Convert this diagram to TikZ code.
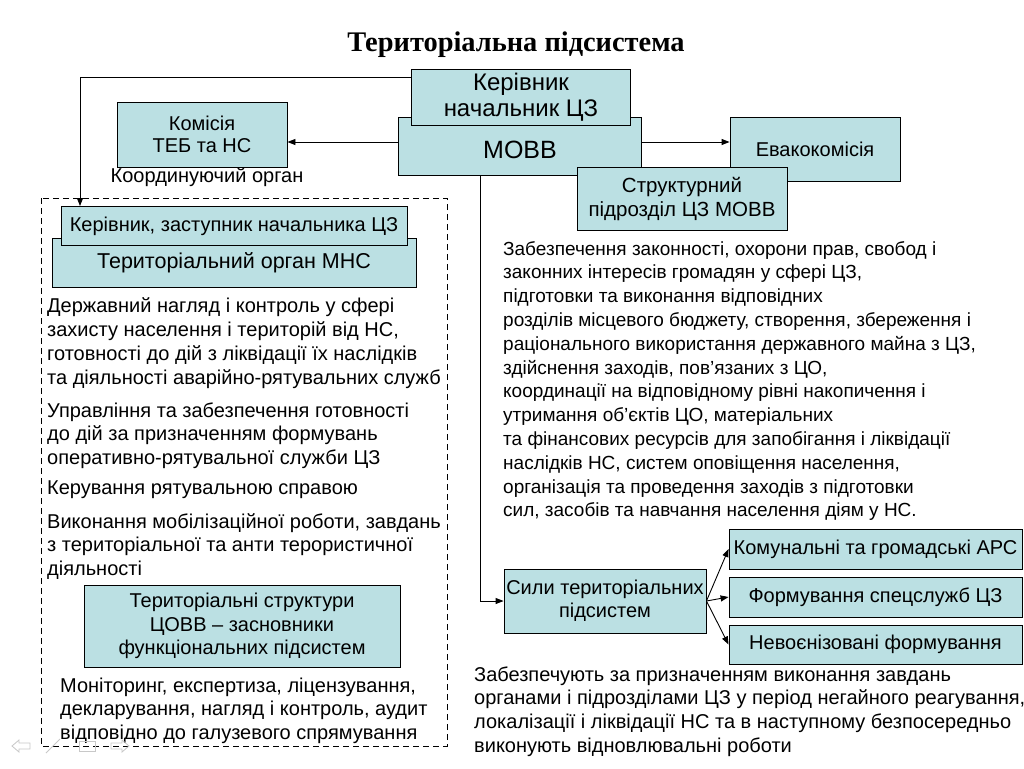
\documentclass[tikz,border=0pt]{standalone}
\usepackage{fontspec}
\setmainfont{Liberation Sans}
\newfontfamily\titlefont{Liberation Serif}
\usetikzlibrary{arrows.meta}
\definecolor{boxfill}{RGB}{187,224,227}
\definecolor{navgrey}{RGB}{200,200,200}
\newcommand\fs{\fontsize{20}{23.8}\selectfont}
\newcommand\fsr{\fontsize{19}{23.8}\selectfont}
\tikzset{
  bx/.style={draw=black, fill=boxfill, line width=0.9pt, inner sep=0pt, align=center, font=\fs},
  arr/.style={-{Triangle[length=8pt,width=6pt]}, line width=0.9pt},
  txt/.style={anchor=north west, inner sep=0pt, align=left, font=\fs},
}
\begin{document}
\begin{tikzpicture}[x=1pt,y=-1pt]
\path[use as bounding box, fill=white] (0,0) rectangle (1024,768);

% title
\node[font=\titlefont\bfseries\fontsize{28.4}{32}\selectfont] (title) at (516,45) {Територіальна підсистема};

% top boxes
\node[bx, minimum width=170, minimum height=65, font=\fontsize{20}{22}\selectfont] (komisia) at (202,134.5) {Комісія\\ТЕБ та НС};
\node[anchor=base, inner sep=0pt, font=\fs] (koord) at (207,182) {Координуючий орган};
\node[bx, minimum width=243, minimum height=58] (movv) at (520,146) {};
\node[font=\fontsize{25}{28}\selectfont, inner sep=0pt] (movvt) at (520,150) {МОВВ};
\node[bx, minimum width=219, minimum height=56, font=\fontsize{24}{26}\selectfont] (kerivnyk) at (521,97.5) {Керівник\\начальник ЦЗ};
\node[bx, minimum width=170, minimum height=64] (evako) at (815,149.5) {Евакокомісія};
\node[bx, minimum width=210, minimum height=63, font=\fontsize{20.5}{24.5}\selectfont] (struct) at (682,199) {Структурний\\підрозділ ЦЗ МОВВ};

% dashed frame
\draw[dashed, line width=0.9pt, dash pattern=on 6pt off 4pt] (41,198) rectangle (447,746);

\node[bx, minimum width=364, minimum height=49, font=\fontsize{21.5}{24}\selectfont] (mns) at (234,262.5) {Територіальний орган МНС};
\node[bx, minimum width=346, minimum height=39] (zast) at (234,226) {Керівник, заступник начальника ЦЗ};

\node[txt] (p1) at (47,296) {\strut Державний нагляд і контроль у сфері\\захисту населення і територій від НС,\\готовності до дій з ліквідації їх наслідків\\та діяльності аварійно-рятувальних служб};
\node[txt] (p2) at (47,400.3) {\strut Управління та забезпечення готовності\\до дій за призначенням формувань\\оперативно-рятувальної служби ЦЗ};
\node[txt] (p3) at (47,478) {\strut Керування рятувальною справою};
\node[txt] (p4) at (47,511.3) {\strut Виконання мобілізаційної роботи, завдань\\з територіальної та анти терористичної\\діяльності};
\node[bx, minimum width=316, minimum height=82, font=\fontsize{20}{23.5}\selectfont] (tsc) at (242,626) {Територіальні структури\\ЦОВВ – засновники\\функціональних підсистем};
\node[txt] (p5) at (60,675.3) {\strut Моніторинг, експертиза, ліцензування,\\декларування, нагляд і контроль, аудит\\відповідно до галузевого спрямування};

% right text
\node[txt, font=\fsr] (rt) at (503,238.3) {\strut Забезпечення законності, охорони прав, свобод і\\законних інтересів громадян у сфері ЦЗ,\\підготовки та виконання відповідних\\розділів місцевого бюджету, створення, збереження і\\раціонального використання державного майна з ЦЗ,\\здійснення заходів, пов’язаних з ЦО,\\координації на відповідному рівні накопичення і\\утримання об’єктів ЦО, матеріальних\\та фінансових ресурсів для запобігання і ліквідації\\наслідків НС, систем оповіщення населення,\\організація та проведення заходів з підготовки\\сил, засобів та навчання населення діям у НС.};

% forces
\node[bx, minimum width=202, minimum height=64, font=\fontsize{20}{23}\selectfont] (syly) at (605,601) {Сили територіальних\\підсистем};
\node[bx, minimum width=293, minimum height=40] (kom) at (875.5,549) {Комунальні та громадські АРС};
\node[bx, minimum width=293, minimum height=40] (form) at (875.5,597) {Формування спецслужб ЦЗ};
\node[bx, minimum width=293, minimum height=39] (nevo) at (875.5,644.5) {Невоєнізовані формування};

\node[txt] (bt) at (474,664.3) {\strut Забезпечують за призначенням виконання завдань\\органами і підрозділами ЦЗ у період негайного реагування,\\локалізації і ліквідації НС та в наступному безпосередньо\\виконують відновлювальні роботи};

% connectors
\draw[arr] ([yshift=20.5pt]kerivnyk.west) -| ([xshift=-154pt]zast.north);
\draw[arr] ([yshift=4pt]movv.west) -- ([yshift=-7.5pt]komisia.east);
\draw[arr] ([yshift=4pt]movv.east) -- ([yshift=7.5pt]evako.west);
\draw[arr] ([xshift=-40pt]movv.south) |- (syly.west);
\draw[arr] (syly.east) -- (kom.west);
\draw[arr] (syly.east) -- (form.west);
\draw[arr] (syly.east) -- (nevo.west);

% slide navigation icons
\begin{scope}[navgrey, line width=0.8pt]
\draw (12,746) -- (19,740) -- (19,743) -- (30,743) -- (30,749) -- (19,749) -- (19,752) -- cycle;
\draw (46,753) -- (60,739);
\draw (79,741) rectangle (95,751);
\draw (129,746) -- (122,740) -- (122,743) -- (111,743) -- (111,749) -- (122,749) -- (122,752) -- cycle;
\end{scope}
\end{tikzpicture}
\end{document}
